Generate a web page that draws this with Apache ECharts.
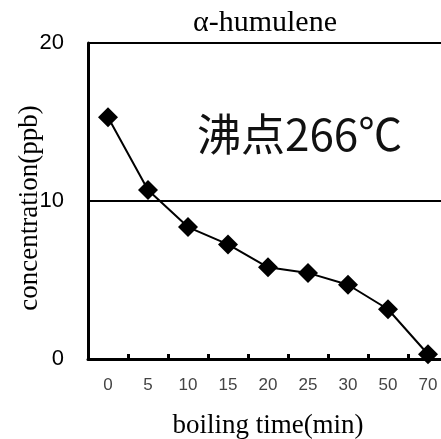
<!DOCTYPE html>
<html>
<head>
<meta charset="utf-8">
<script src="https://cdn.jsdelivr.net/npm/echarts@6/dist/echarts.min.js"></script>
<style>
  html, body { margin: 0; padding: 0; background: #fff; }
  #chart { width: 441px; height: 439px; }
</style>
</head>
<body>
<div id="chart"></div>
<script>
  // boiling time categories (min)
  const times = ['0', '5', '10', '15', '20', '25', '30', '50', '70'];
  // α-humulene concentration (ppb)
  const conc = [15.3, 10.7, 8.35, 7.25, 5.8, 5.45, 4.7, 3.15, 0.3];
  const yTicks = [0, 10, 20];

  const SERIF = '"Liberation Serif", "DejaVu Serif", serif';
  const SANS = '"Liberation Sans", Arial, sans-serif';

  const chart = echarts.init(document.getElementById('chart'));
  chart.setOption({
    animation: false,
    title: {
      text: 'α-humulene',
      left: 260,
      top: 3,
      textAlign: 'center',
      textStyle: { fontFamily: SERIF, fontSize: 30, fontWeight: 'normal', color: '#000' },
    },
    grid: { left: 88, top: 43, width: 360, height: 316, outerBoundsMode: 'none' },
    xAxis: {
      type: 'category',
      data: times,
      boundaryGap: true,
      name: 'boiling time(min)',
      nameLocation: 'middle',
      nameGap: 53,
      nameTextStyle: { fontFamily: SERIF, fontSize: 27, color: '#000' },
      axisLine: { lineStyle: { color: '#000', width: 3 } },
      axisTick: { show: true, inside: true, length: 5, lineStyle: { color: '#000', width: 3 } },
      axisLabel: { margin: 18, fontFamily: SANS, fontSize: 17, color: '#444' },
    },
    yAxis: {
      type: 'value',
      min: yTicks[0],
      max: yTicks[yTicks.length - 1],
      interval: 10,
      name: 'concentration(ppb)',
      nameLocation: 'middle',
      nameGap: 45,
      nameMoveOverlap: false,
      nameRotate: 90,
      nameTextStyle: { fontFamily: SERIF, fontSize: 27, color: '#000', padding: [0, 14, 0, 0] },
      axisLine: { show: true, lineStyle: { color: '#000', width: 3 } },
      axisTick: { show: false },
      axisLabel: { margin: 24, fontFamily: SANS, fontSize: 22, color: '#000' },
      splitLine: { show: true, lineStyle: { color: '#000', width: 2 } },
    },
    graphic: [{
      type: 'text',
      left: 197,
      top: 112,
      style: {
        text: '沸点266℃',
        font: '44px "Noto Sans CJK JP", "Noto Sans CJK SC", sans-serif',
        fill: '#111',
      },
    }],
    series: [{
      type: 'line',
      data: conc,
      symbol: 'diamond',
      symbolSize: 20,
      itemStyle: { color: '#000' },
      lineStyle: { color: '#000', width: 2 },
      clip: false,
    }],
  });
</script>
</body>
</html>
